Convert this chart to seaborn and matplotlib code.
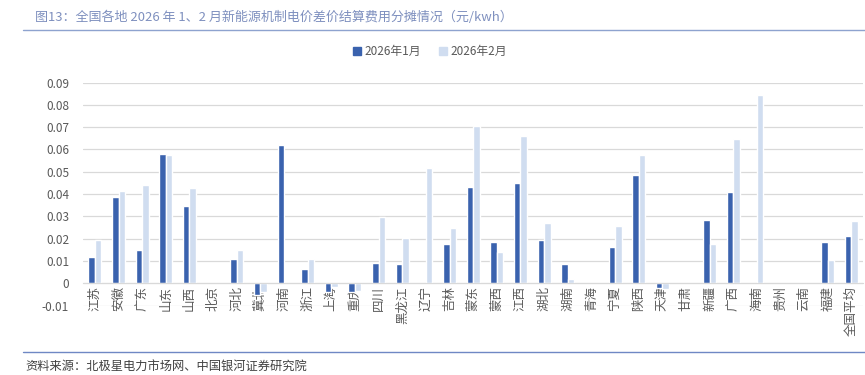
import matplotlib
matplotlib.use('Agg')
import matplotlib.pyplot as plt
from matplotlib.lines import Line2D
from matplotlib.ticker import FuncFormatter
import seaborn as sns
import numpy as np
import pandas as pd

regions = ['江苏', '安徽', '广东', '山东', '山西', '北京', '河北', '冀北', '河南', '浙江',
           '上海', '重庆', '四川', '黑龙江', '辽宁', '吉林', '蒙东', '蒙西', '江西', '湖北',
           '湖南', '青海', '宁夏', '陕西', '天津', '甘肃', '新疆', '广西', '海南', '贵州',
           '云南', '福建', '全国平均']
jan = [0.0120, 0.0387, 0.0150, 0.0578, 0.0345, 0.0, 0.0109, -0.0054, 0.0619, 0.0063,
       -0.0040, -0.0039, 0.0091, 0.0088, 0.0, 0.0176, 0.0433, 0.0184, 0.0448, 0.0194,
       0.0088, 0.0, 0.0161, 0.0486, -0.0019, 0.0, 0.0284, 0.0408, 0.0, 0.0,
       0.0, 0.0187, 0.0211]
feb = [0.0194, 0.0414, 0.0441, 0.0574, 0.0426, 0.0, 0.0150, -0.0040, 0.0, 0.0108,
       -0.0015, -0.0034, 0.0299, 0.0202, 0.0516, 0.0250, 0.0704, 0.0140, 0.0661, 0.0272,
       0.0019, 0.0, 0.0257, 0.0577, -0.0024, 0.0, 0.0178, 0.0647, 0.0846, 0.0,
       0.0, 0.0103, 0.0281]
months = ['2026年1月', '2026年2月']
colors = ['#3A62AE', '#D0DDF0']

df = pd.DataFrame({
    'region': regions * 2,
    'value': jan + feb,
    'month': [months[0]] * len(regions) + [months[1]] * len(regions),
})

sns.set_style('white')
plt.rcParams['font.family'] = ['Noto Sans CJK SC', 'DejaVu Sans']

fig = plt.figure(figsize=(8.65, 3.75), dpi=100, facecolor='white')
ax = fig.add_axes([0.096, 0.185, 0.902, 0.595])

sns.barplot(data=df, x='region', y='value', hue='month', palette=colors,
            width=0.55, saturation=1, ax=ax, legend=False)

ax.set_ylim(-0.01, 0.09)
ax.set_xlim(-0.5, len(regions) - 0.5)
ax.set_yticks(np.round(np.arange(-0.01, 0.0901, 0.01), 2))
ax.yaxis.set_major_formatter(FuncFormatter(lambda v, p: '0' if abs(v) < 1e-9 else f'{v:.2f}'))
ax.grid(axis='y', color='#d9d9d9', lw=0.9)
ax.set_axisbelow(True)
for s in ['top', 'right', 'left']:
    ax.spines[s].set_visible(False)
ax.spines['bottom'].set_position(('data', 0))
ax.spines['bottom'].set_color('#d9d9d9')
ax.tick_params(axis='x', length=0, pad=2, labelsize=9, labelcolor='#595959', rotation=90)
ax.tick_params(axis='y', length=0, pad=10, labelsize=8.5, labelcolor='#595959')
ax.set_xlabel('')
ax.set_ylabel('')

handles = [plt.Rectangle((0, 0), 1, 1, color=c) for c in colors]
fig.legend(handles, months, loc='center', bbox_to_anchor=(0.497, 0.862), ncol=2,
           frameon=False, fontsize=8.5, handlelength=0.7, handleheight=0.7,
           handletextpad=0.3, columnspacing=1.5, labelcolor='#595959')

fig.text(0.04, 0.955, '图13：全国各地 2026 年 1、2 月新能源机制电价差价结算费用分摊情况（元/kwh）',
         color='#7f90bf', fontsize=9.4, va='center')
fig.add_artist(Line2D([0.027, 1.0], [0.921, 0.921], color='#8ea3cf', lw=1))
fig.add_artist(Line2D([0.027, 1.0], [0.061, 0.061], color='#6f88c4', lw=1))
fig.text(0.029, 0.022, '资料来源：北极星电力市场网、中国银河证券研究院',
         color='#404040', fontsize=8.8, va='center')

plt.savefig('out.png', dpi=100, facecolor='white')
